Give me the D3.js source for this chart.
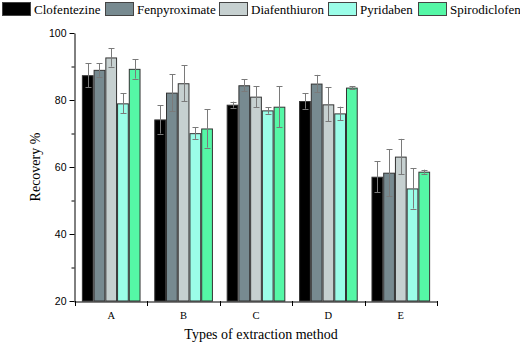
<!DOCTYPE html>
<html><head><meta charset="utf-8">
<script src="https://cdn.jsdelivr.net/npm/d3@7"></script>
<style>body{margin:0;background:#fff}svg{display:block}</style>
</head><body>
<svg id="c" width="520" height="343"></svg>
<script>
const categories = ["A","B","C","D","E"];
const seriesNames = ["Clofentezine","Fenpyroximate","Diafenthiuron","Pyridaben","Spirodiclofen"];
const seriesColors = ["#000000","#778a90","#c6d0d0","#9bfde8","#55f7a6"];
const clofentezine  = [87.4, 74.2, 78.6, 79.7, 57.1];
const fenpyroximate = [89.0, 82.2, 84.4, 84.9, 58.3];
const diafenthiuron = [92.7, 85.0, 81.0, 78.7, 63.1];
const pyridaben     = [79.0, 70.1, 76.9, 76.0, 53.6];
const spirodiclofen = [89.3, 71.5, 78.0, 83.7, 58.6];
const clofentezineErr  = [3.6, 4.2, 0.9, 2.3, 4.6];
const fenpyroximateErr = [2.0, 5.5, 1.8, 2.6, 7.0];
const diafenthiuronErr = [2.7, 5.4, 3.1, 5.1, 5.3];
const pyridabenErr     = [3.0, 1.7, 1.0, 2.0, 6.0];
const spirodiclofenErr = [2.9, 5.7, 6.1, 0.4, 0.6];
const yTicks = [20, 40, 60, 80, 100];

const values = [clofentezine, fenpyroximate, diafenthiuron, pyridaben, spirodiclofen];
const errs = [clofentezineErr, fenpyroximateErr, diafenthiuronErr, pyridabenErr, spirodiclofenErr];

const svg = d3.select("#c");
const x0 = d3.scaleBand().domain(categories).range([75, 437]).paddingInner(0.19).paddingOuter(0.095);
const x1 = d3.scaleBand().domain(seriesNames).range([0, x0.bandwidth()]);
const y = d3.scaleLinear().domain([20, 100]).range([301, 33]);

// bars
const g = svg.append("g");
categories.forEach((c, ci) => {
  seriesNames.forEach((s, si) => {
    const v = values[si][ci], e = errs[si][ci];
    const bx = x0(c) + x1(s);
    g.append("rect").attr("x", bx + 0.5).attr("y", y(v) + 0.5)
      .attr("width", x1.bandwidth() - 1).attr("height", y(20) - y(v) - 0.5)
      .attr("fill", seriesColors[si]).attr("stroke", "#333").attr("stroke-width", 1);
  });
});
// error bars
categories.forEach((c, ci) => {
  seriesNames.forEach((s, si) => {
    const v = values[si][ci], e = errs[si][ci];
    const cx = Math.round(x0(c) + x1(s) + x1.bandwidth() / 2) + 0.5;
    const eg = g.append("g").attr("stroke", "#7a7a7a").attr("stroke-width", 1);
    eg.append("line").attr("x1", cx).attr("x2", cx).attr("y1", y(v + e)).attr("y2", y(v - e));
    eg.append("line").attr("x1", cx - 3).attr("x2", cx + 3).attr("y1", Math.round(y(v + e)) + 0.5).attr("y2", Math.round(y(v + e)) + 0.5);
    eg.append("line").attr("x1", cx - 3).attr("x2", cx + 3).attr("y1", Math.round(y(v - e)) + 0.5).attr("y2", Math.round(y(v - e)) + 0.5);
  });
});

// y axis
const yAxis = svg.append("g").attr("transform", "translate(74.5,0)")
  .call(d3.axisLeft(y).tickValues(yTicks).tickSize(5).tickPadding(3).tickSizeOuter(0));
yAxis.selectAll("text").attr("font-family", "Liberation Sans, Arial, sans-serif").attr("font-size", 10.5).attr("fill", "#000");
svg.append("g").attr("transform", "translate(74.5,0)")
  .call(d3.axisLeft(y).tickValues([30, 50, 70, 90]).tickSize(3).tickFormat("").tickSizeOuter(0))
  .select(".domain").remove();

// x axis
const xAxis = svg.append("g").attr("transform", "translate(0,301.5)")
  .call(d3.axisBottom(x0).tickSize(0).tickPadding(10).tickSizeOuter(0));
xAxis.selectAll("text").attr("font-family", "Liberation Serif, Times New Roman, serif").attr("font-size", 10.5).attr("fill", "#000");
xAxis.select(".domain").attr("d", "M74.5,0.5H437");
const boundaries = categories.map(c => x0(c) - x0.step() * x0.paddingInner() / 2).concat([x0(categories[4]) + x0.bandwidth() + x0.step() * x0.paddingInner() / 2]);
svg.append("g").selectAll("line").data(boundaries).join("line")
  .attr("x1", d => Math.round(d) + 0.5).attr("x2", d => Math.round(d) + 0.5)
  .attr("y1", 301).attr("y2", 306).attr("stroke", "#000");

// axis titles
svg.append("text").attr("x", 261).attr("y", 339).attr("text-anchor", "middle")
  .attr("font-family", "Liberation Serif, Times New Roman, serif").attr("font-size", 14).text("Types of extraction method");
svg.append("text").attr("transform", "translate(40,167) rotate(-90)").attr("text-anchor", "middle")
  .attr("font-family", "Liberation Serif, Times New Roman, serif").attr("font-size", 14).text("Recovery %");

// legend
const legendX = [2, 105, 219, 328, 418];
seriesNames.forEach((s, i) => {
  svg.append("rect").attr("x", legendX[i] + 0.5).attr("y", 2.5).attr("width", 28).attr("height", 13)
    .attr("fill", seriesColors[i]).attr("stroke", "#444");
  svg.append("text").attr("x", legendX[i] + 32).attr("y", 14)
    .attr("font-family", "Liberation Serif, Times New Roman, serif").attr("font-size", 13).text(s);
});
</script>
</body></html>
